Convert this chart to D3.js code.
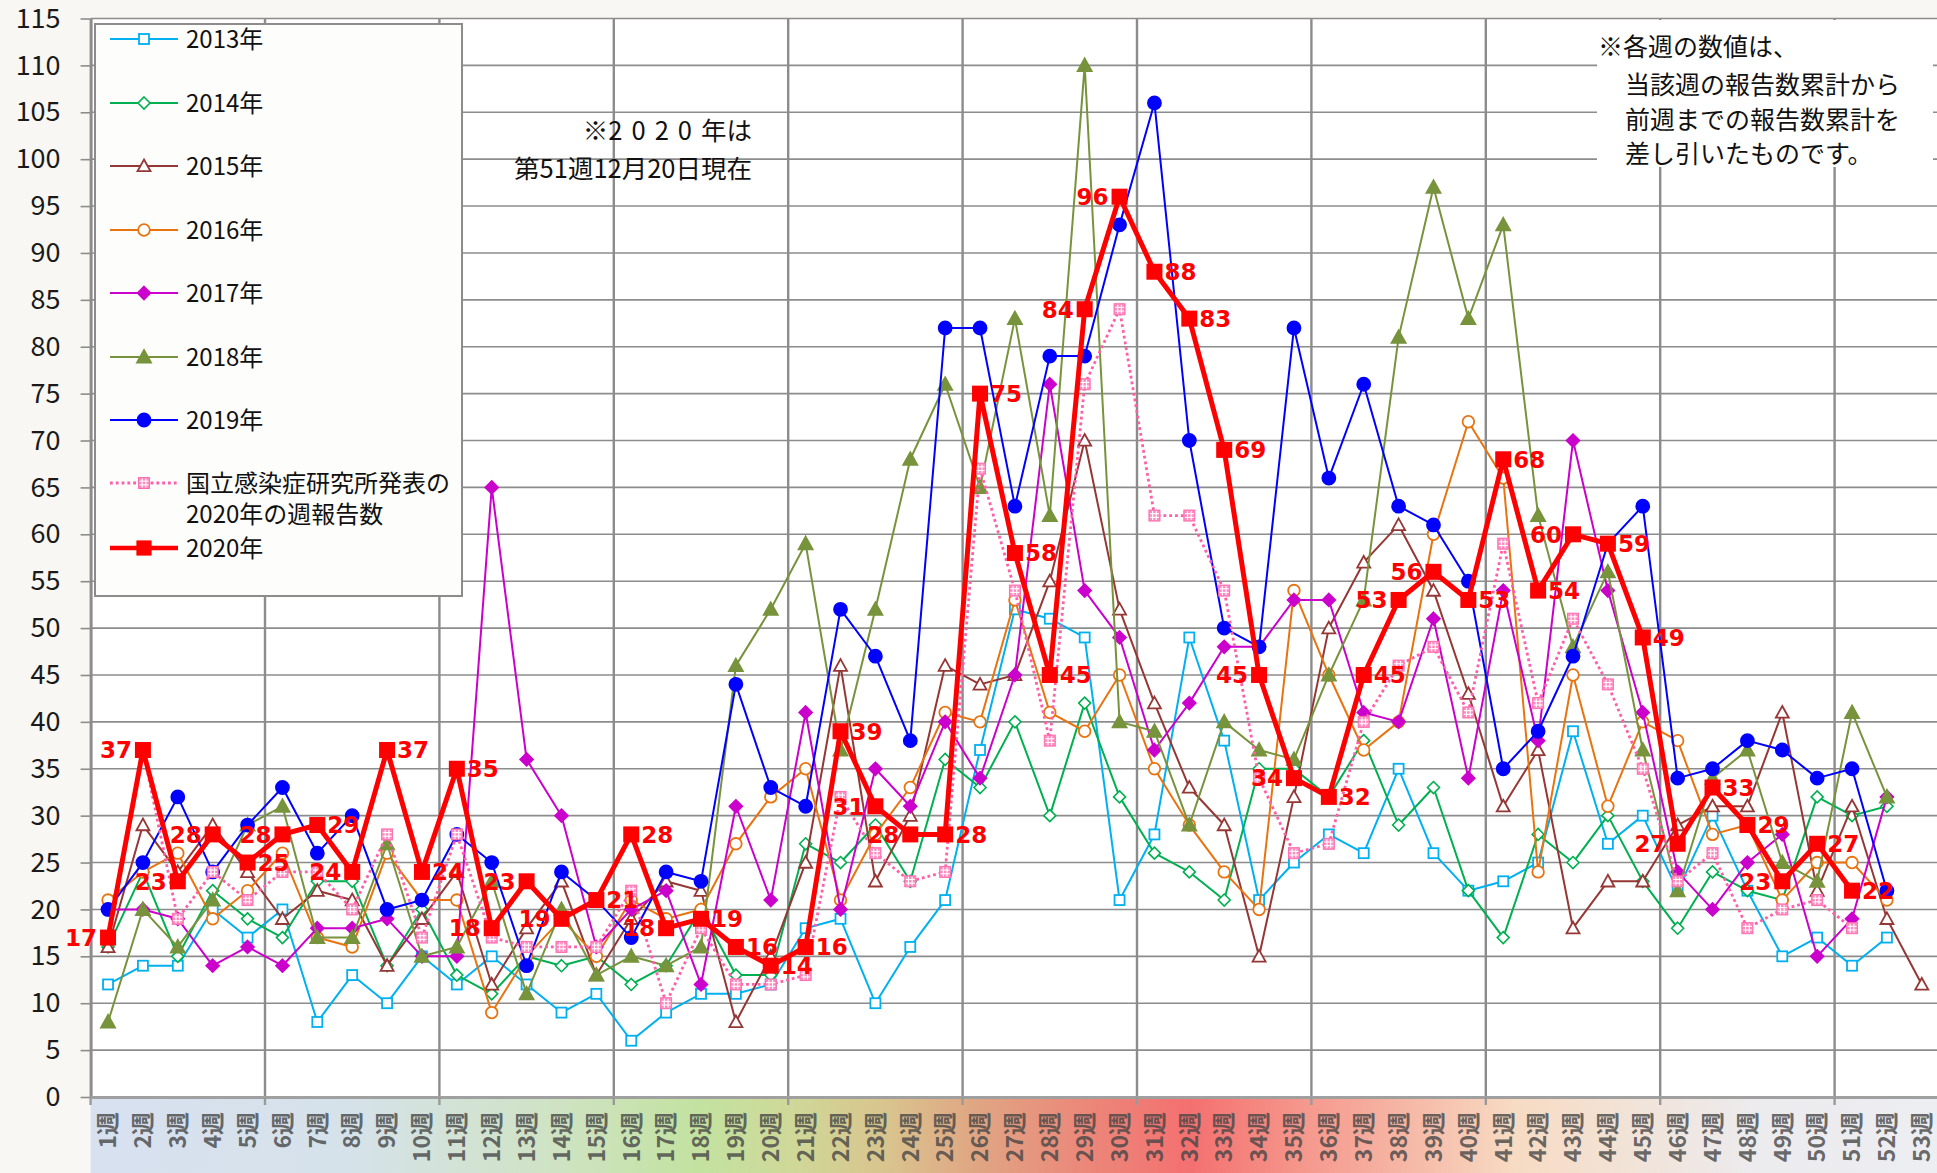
<!DOCTYPE html>
<html><head><meta charset="utf-8">
<script src="https://cdn.jsdelivr.net/npm/d3@7"></script>
<style>
html,body{margin:0;padding:0;background:#f8f7f3;overflow:hidden;}
svg{display:block;}
</style></head><body>
<svg id="chart" width="1937" height="1173"></svg>
<script>
// ---------- data ----------
const weekLabels = ["1週","2週","3週","4週","5週","6週","7週","8週","9週","10週",
  "11週","12週","13週","14週","15週","16週","17週","18週","19週","20週",
  "21週","22週","23週","24週","25週","26週","27週","28週","29週","30週",
  "31週","32週","33週","34週","35週","36週","37週","38週","39週","40週",
  "41週","42週","43週","44週","45週","46週","47週","48週","49週","50週",
  "51週","52週","53週"];
const yTickValues = [0,5,10,15,20,25,30,35,40,45,50,55,60,65,70,75,80,85,90,95,100,105,110,115];

const s2013 = [12,14,14,20,17,20,8,13,10,15, 12,15,12,9,11,6,9,11,11,12, 18,19,10,16,21,37,52,51,49,21, 28,49,38,21,25,28,26,35,26,22, 23,25,39,27,30,22,30,22,15,17, 14,17];
const s2014 = [16,24,15,22,19,17,23,23,14,20, 13,11,15,14,15,12,14,20,13,13, 27,25,29,23,36,33,40,30,42,32, 26,24,21,35,35,32,38,29,33,22, 17,28,25,30,23,18,24,22,21,32, 30,31];
const s2015 = [16,29,24,29,24,19,22,21,14,19, 24,12,18,23,13,19,23,22,8,15, 25,46,23,30,46,44,45,55,70,52, 42,33,29,15,32,50,57,61,54,43, 31,37,18,23,23,29,31,31,41,22, 31,19,12];
const s2016 = [21,24,26,19,22,26,17,16,26,21, 21,9,15,19,15,21,19,20,27,32, 35,21,28,33,41,40,53,41,39,45, 35,29,24,20,54,45,37,40,60,72, 66,24,45,31,40,38,28,29,21,25, 25,21];
const s2017 = [20,20,19,14,16,14,18,18,19,15, 15,65,36,30,16,20,22,12,31,21, 41,20,35,31,40,34,45,76,54,49, 37,42,48,48,53,53,41,40,51,34, 54,38,70,54,41,24,20,25,28,15, 19,32];
const s2018 = [8,20,16,21,29,31,17,17,27,15, 16,23,11,20,13,15,14,16,46,52, 59,37,52,68,76,65,83,62,110,40, 39,29,40,37,36,45,53,81,97,83, 93,62,48,56,37,22,34,37,25,23, 41,32];
const s2019 = [20,25,32,24,29,33,26,30,20,21, 28,25,14,24,21,17,24,23,44,33, 31,52,47,38,82,82,63,79,79,93, 106,70,50,48,82,66,76,63,61,55, 35,39,47,59,63,34,35,38,37,34, 35,22];
const sNiid = [17,37,19,24,21,24,24,20,28,17, 28,17,16,16,16,22,10,18,12,12, 13,32,26,23,24,67,54,38,76,84, 62,62,54,34,26,27,40,46,48,41, 59,42,51,44,35,23,26,18,20,21, 18];
const s2020 = [17,37,23,28,25,28,29,24,37,24, 35,18,23,19,21,28,18,19,16,14, 16,39,31,28,28,75,58,45,84,96, 88,83,69,45,34,32,45,53,56,53, 68,54,60,59,49,27,33,29,23,27, 22];

const legendNames = ["2013年","2014年","2015年","2016年","2017年","2018年","2019年","国立感染症研究所発表の\n2020年の週報告数","2020年"];
const noteTopRight = ["※各週の数値は、","当該週の報告数累計から","前週までの報告数累計を","差し引いたものです。"];
const noteCenter = [["※","2020","年は"],"第51週12月20日現在"];

// label placement for 2020 data labels (L = left, R = right)
const labelSides = ["L","L","L","L","R","L","R","L","R","R","R","L","L","L","R","R","L","R","R","R",
  "R","R","L","L","R","R","R","R","L","L","R","R","R","L","L","R","R","L","L","R",
  "R","R","L","R","R","L","R","R","L","R","R"];

// ---------- styles ----------
const series = [
  {name: legendNames[0], data: s2013, color:"#00B0F0", marker:"square", fill:false, w:2},
  {name: legendNames[1], data: s2014, color:"#00B050", marker:"diamond", fill:false, w:2},
  {name: legendNames[2], data: s2015, color:"#953735", marker:"triangle", fill:false, w:2},
  {name: legendNames[3], data: s2016, color:"#E8730F", marker:"circle", fill:false, w:2},
  {name: legendNames[4], data: s2017, color:"#CC00CC", marker:"diamond", fill:true, w:2},
  {name: legendNames[5], data: s2018, color:"#77933C", marker:"triangle", fill:true, w:2},
  {name: legendNames[6], data: s2019, color:"#0000FF", marker:"circle", fill:true, w:2},
  {name: legendNames[7], data: sNiid, color:"#FF5FA8", marker:"niid", fill:true, w:2.8, dash:"2.8,3"},
  {name: legendNames[8], data: s2020, color:"#FF0000", marker:"bigsquare", fill:true, w:5}
];

const W = 1937, H = 1173;
const L = 90.6, R = L + 53*34.88, T = 18.5, B = 1097;
const svg = d3.select("#chart");
const jp = "'Noto Sans CJK JP','Noto Sans',sans-serif";

const x = d3.scaleBand().domain(weekLabels).range([L, R]).padding(0);
const cx = i => x(weekLabels[i]) + x.bandwidth()/2;
const y = d3.scaleLinear().domain([0,115]).range([B, T]);

// gradient for category axis area
const defs = svg.append("defs");
const grad = defs.append("linearGradient").attr("id","xg")
  .attr("gradientUnits","userSpaceOnUse").attr("x1",L).attr("x2",R).attr("y1",0).attr("y2",0);
[[0,"#d8e1f0"],[0.14,"#d6e2ea"],[0.25,"#cfe3c4"],[0.33,"#c3e2a0"],[0.38,"#cfd898"],
 [0.43,"#d9c48e"],[0.48,"#e0a583"],[0.53,"#ea8b7b"],[0.595,"#f47070"],[0.66,"#f59a8e"],
 [0.72,"#f6bcaa"],[0.77,"#f7dbc3"],[0.84,"#f1e4da"],[0.90,"#ecebee"],[1,"#edeef2"]]
 .forEach(s => grad.append("stop").attr("offset",s[0]).attr("stop-color",s[1]));

// backgrounds
svg.append("rect").attr("x",0).attr("y",0).attr("width",W).attr("height",H).attr("fill","#f8f7f3");
svg.append("rect").attr("x",L).attr("y",T).attr("width",R-L).attr("height",B-T).attr("fill","#ffffff");
svg.append("rect").attr("x",L).attr("y",B).attr("width",R-L).attr("height",H-B).attr("fill","url(#xg)");

// gridlines
const grid = svg.append("g");
grid.selectAll("line.h").data(yTickValues.filter(v=>v>0)).join("line")
  .attr("x1",L).attr("x2",R).attr("y1",d=>y(d)).attr("y2",d=>y(d))
  .attr("stroke","#8c8c8c").attr("stroke-width",1.6);
const vIdx = [5,10,15,20,25,30,35,40,45,50];
grid.selectAll("line.v").data(vIdx).join("line")
  .attr("x1",d=>x(weekLabels[d])).attr("x2",d=>x(weekLabels[d]))
  .attr("y1",T).attr("y2",B).attr("stroke","#8c8c8c").attr("stroke-width",2.4);

// y axis
const yAxis = svg.append("g").attr("transform",`translate(${L},0)`)
  .call(d3.axisLeft(y).tickValues(yTickValues).tickSize(10).tickSizeOuter(0).tickPadding(20));
yAxis.select(".domain").attr("stroke","#8c8c8c").attr("stroke-width",3);
yAxis.selectAll(".tick line").attr("stroke","#8c8c8c").attr("stroke-width",1.6);
yAxis.selectAll("text").attr("font-family",jp).attr("font-size",27).attr("fill","#1a1a1a");

// x axis
const xAxis = svg.append("g").attr("transform",`translate(0,${B})`)
  .call(d3.axisBottom(x).tickSize(0).tickSizeOuter(0));
xAxis.select(".domain").attr("stroke","#a0a0a0").attr("stroke-width",3);
xAxis.selectAll("text")
  .attr("transform","rotate(-90)").attr("text-anchor","end")
  .attr("x",-15).attr("y",0).attr("dy","0.36em")
  .attr("font-family",jp).attr("font-size",23).attr("font-weight","bold")
  .attr("fill","#454545").attr("fill-opacity",0.8);
svg.append("g").selectAll("line").data([0].concat(vIdx)).join("line")
  .attr("x1",d=>x(weekLabels[d])).attr("x2",d=>x(weekLabels[d]))
  .attr("y1",B).attr("y2",B+8).attr("stroke","#9a9a9a").attr("stroke-width",2.4);

// marker drawing
function drawMarker(g, s, px, py, scale) {
  const k = scale || 1;
  const c = s.color, f = s.fill ? c : "#ffffff";
  if (s.marker === "square") {
    g.append("rect").attr("x",px-5*k).attr("y",py-5*k).attr("width",10*k).attr("height",10*k)
      .attr("fill",f).attr("stroke",c).attr("stroke-width",1.8);
  } else if (s.marker === "diamond") {
    const r = (s.fill ? 6.5 : 6)*k;
    g.append("path").attr("d",`M${px},${py-r}L${px+r},${py}L${px},${py+r}L${px-r},${py}Z`)
      .attr("fill",f).attr("stroke",c).attr("stroke-width",1.6);
  } else if (s.marker === "triangle") {
    const r = (s.fill ? 7 : 6.5)*k;
    g.append("path").attr("d",`M${px},${py-r}L${px+r},${py+r*0.8}L${px-r},${py+r*0.8}Z`)
      .attr("fill",f).attr("stroke",c).attr("stroke-width",1.8);
  } else if (s.marker === "circle") {
    g.append("circle").attr("cx",px).attr("cy",py).attr("r",(s.fill?6.5:5.8)*k)
      .attr("fill",f).attr("stroke",c).attr("stroke-width",1.8);
  } else if (s.marker === "niid") {
    const h = 5.5*k;
    g.append("rect").attr("x",px-h).attr("y",py-h).attr("width",2*h).attr("height",2*h)
      .attr("fill","#ff8cc0").attr("stroke","#ff6fb0").attr("stroke-width",1);
    [-h/3, h/3].forEach(o => {
      g.append("line").attr("x1",px-h+1).attr("x2",px+h-1).attr("y1",py+o).attr("y2",py+o)
        .attr("stroke","#ffffff").attr("stroke-width",1.1);
      g.append("line").attr("y1",py-h+1).attr("y2",py+h-1).attr("x1",px+o).attr("x2",px+o)
        .attr("stroke","#ffffff").attr("stroke-width",1.1);
    });
  } else if (s.marker === "bigsquare") {
    g.append("rect").attr("x",px-8*k).attr("y",py-8*k).attr("width",16*k).attr("height",16*k)
      .attr("fill",c);
  }
}

// series
const line = d3.line().x((d,i)=>cx(i)).y(d=>y(d));
series.forEach(s => {
  const g = svg.append("g");
  g.append("path").datum(s.data).attr("d",line).attr("fill","none")
    .attr("stroke",s.color).attr("stroke-width",s.w)
    .attr("stroke-dasharray",s.dash||null).attr("stroke-linejoin","round");
  s.data.forEach((v,i) => drawMarker(g, s, cx(i), y(v)));
});

// 2020 data labels
svg.append("g").selectAll("text").data(s2020).join("text")
  .attr("x",(d,i)=> labelSides[i]==="L" ? cx(i)-11 : cx(i)+10)
  .attr("y",d=>y(d)).attr("dy","0.36em")
  .attr("text-anchor",(d,i)=> labelSides[i]==="L" ? "end" : "start")
  .attr("font-family","'DejaVu Sans',Verdana,sans-serif").attr("font-weight","bold")
  .attr("font-size",23).attr("fill","#FF0000").text(d=>d);

// legend
const lg = svg.append("g");
lg.append("rect").attr("x",95).attr("y",24).attr("width",367).attr("height",572)
  .attr("fill","#fdfdfb").attr("stroke","#8c8c8c").attr("stroke-width",2);
const rowY = [39,103,166,230,293,357,420,483,548];
series.forEach((s,i) => {
  const yy = rowY[i];
  lg.append("line").attr("x1",110).attr("x2",178).attr("y1",yy).attr("y2",yy)
    .attr("stroke",s.color).attr("stroke-width",s.w===5?4.5:s.w).attr("stroke-dasharray",s.dash||null);
  drawMarker(lg, s, 144, yy, s.marker==="bigsquare" ? 0.95 : 1);
  const lines = s.name.split("\n");
  lines.forEach((t,j) => {
    lg.append("text").attr("x",186).attr("y",yy + j*31).attr("dy","0.36em")
      .attr("font-family",jp).attr("font-size",24).attr("fill","#111").text(t);
  });
});

// center note
const c1 = svg.append("text").attr("x",752).attr("y",140).attr("text-anchor","end")
  .attr("font-family",jp).attr("font-size",25.5).attr("fill","#111");
c1.append("tspan").text(noteCenter[0][0]);
c1.append("tspan").attr("letter-spacing",9).text(noteCenter[0][1]);
c1.append("tspan").text(noteCenter[0][2]);
svg.append("text").attr("x",752).attr("y",178).attr("text-anchor","end")
  .attr("font-family",jp).attr("font-size",25.5).attr("fill","#111").text(noteCenter[1]);

// top-right note
svg.append("rect").attr("x",1597).attr("y",20).attr("width",336).attr("height",147).attr("fill","#ffffff");
noteTopRight.forEach((t,i) => {
  svg.append("text").attr("x", i===0 ? 1598 : 1625).attr("y",[56,94,129,163][i])
    .attr("font-family",jp).attr("font-size",25).attr("fill","#111").text(t);
});
</script>
</body></html>
